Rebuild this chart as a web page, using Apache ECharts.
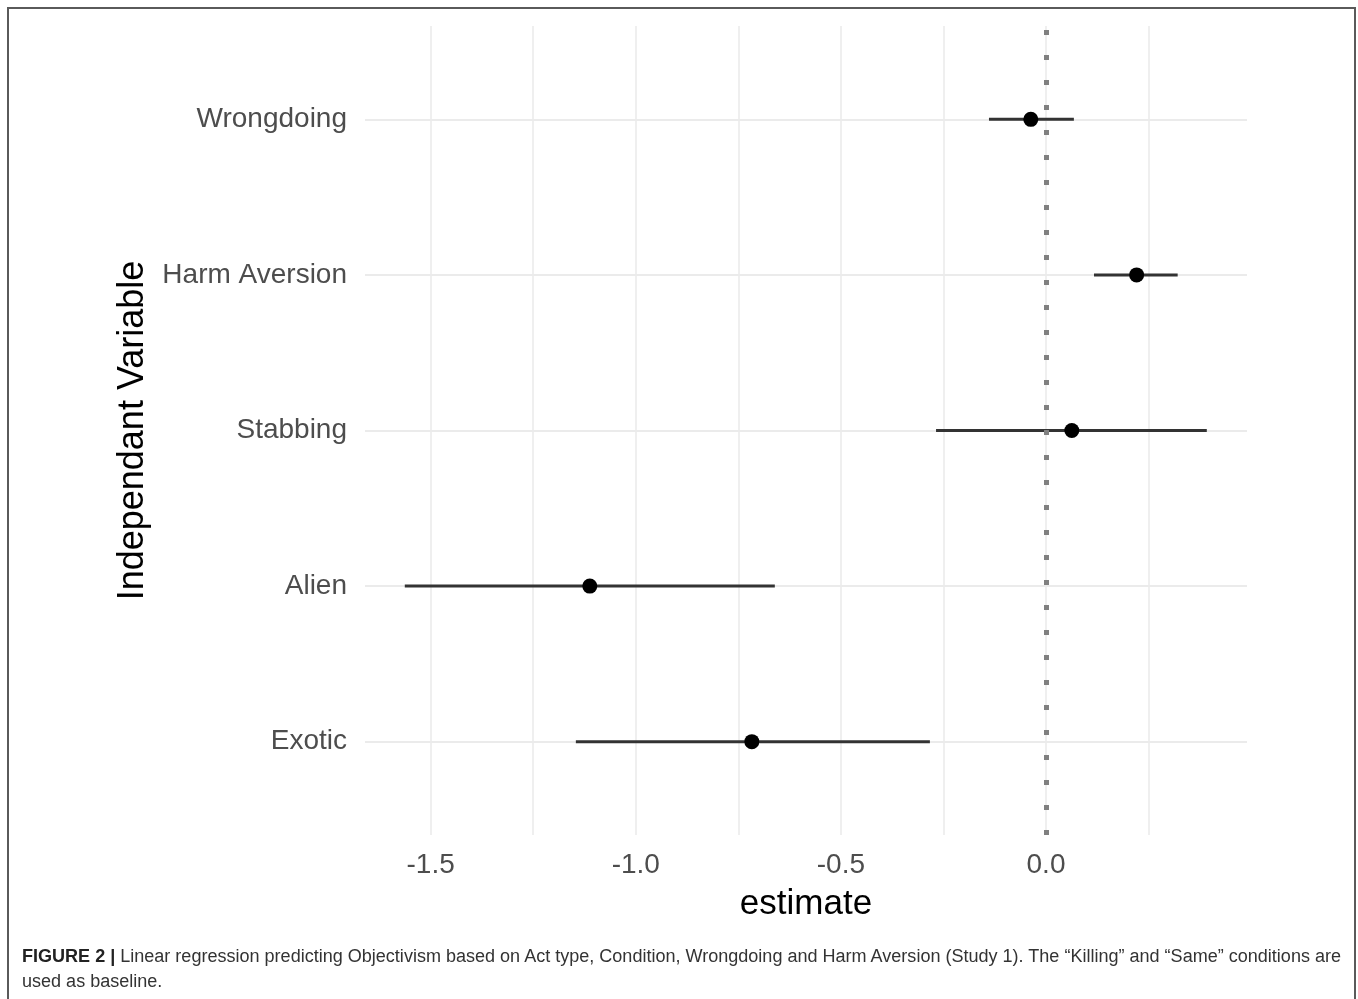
<!DOCTYPE html>
<html>
<head>
<meta charset="utf-8">
<script src="https://cdn.jsdelivr.net/npm/echarts@6/dist/echarts.min.js"></script>
<style>
  html, body { margin: 0; padding: 0; background: #fff; }
  body { width: 1358px; height: 999px; position: relative; overflow: hidden; font-family: "Liberation Sans", Arial, sans-serif; }
  #frame { position: absolute; left: 7px; top: 7px; width: 1345px; height: 1100px; border: 2px solid #5a5a5a; box-sizing: content-box; }
  #chart { position: absolute; left: 0; top: 0; width: 1358px; height: 999px; }
  #cap { position: absolute; left: 22px; top: 944px; transform-origin: 0 0; color: #333; font-size: 18px; line-height: 25px; white-space: nowrap; }
  #cap b { color: #222; }
  #l1, #l2 { display: block; }
  #l1 span { display: inline-block; }
</style>
</head>
<body>
<div id="frame"></div>
<div id="chart"></div>
<div id="cap"><div id="l1"><span id="l1s"><b>FIGURE 2 |</b> Linear regression predicting Objectivism based on Act type, Condition, Wrongdoing and Harm Aversion (Study 1). The “Killing” and “Same” conditions are</span></div><div id="l2">used as baseline.</div></div>
<script>
// Data (bottom to top)
const categories = ['Exotic', 'Alien', 'Stabbing', 'Harm Aversion', 'Wrongdoing'];
const estimates = [-0.717, -1.112, 0.063, 0.221, -0.037];
const lowerCI = [-1.146, -1.563, -0.268, 0.117, -0.139];
const upperCI = [-0.283, -0.661, 0.392, 0.321, 0.068];
const xTickValues = [-1.5, -1.0, -0.5, 0.0];
const xGridValues = [-1.5, -1.25, -1.0, -0.75, -0.5, -0.25, 0.0, 0.25];
const yPositions = [1, 2, 3, 4, 5];

const segData = categories.map((c, i) => [lowerCI[i], upperCI[i], yPositions[i]]);
const pointData = categories.map((c, i) => [estimates[i], yPositions[i]]);

const chart = echarts.init(document.getElementById('chart'), null, { renderer: 'canvas' });
const fontFam = '"Liberation Sans", Arial, sans-serif';
chart.setOption({
  animation: false,
  backgroundColor: 'transparent',
  grid: { left: 365, right: 111, top: 26, bottom: 164, containLabel: false },
  xAxis: {
    type: 'value',
    min: -1.66,
    max: 0.49,
    name: 'estimate',
    nameLocation: 'middle',
    nameGap: 52,
    nameTextStyle: { fontSize: 35, color: '#000', fontFamily: fontFam },
    axisLine: { show: false },
    axisTick: { show: false, customValues: xGridValues },
    axisLabel: {
      customValues: xTickValues,
      fontSize: 28, color: '#4d4d4d', fontFamily: fontFam, margin: 16,
      formatter: v => Number(v).toFixed(1)
    },
    splitLine: { show: true, lineStyle: { color: '#ebebeb', width: 1.6 } }
  },
  yAxis: {
    type: 'value',
    min: 0.4,
    max: 5.6,
    name: 'Independant Variable',
    nameLocation: 'middle',
    nameGap: 212,
    nameTextStyle: { fontSize: 36, color: '#000', fontFamily: fontFam },
    axisLine: { show: false },
    axisTick: { show: false, customValues: yPositions },
    axisLabel: {
      customValues: yPositions,
      fontSize: 28, color: '#4d4d4d', fontFamily: fontFam, margin: 18,
      formatter: v => categories[Math.round(v) - 1] || ''
    },
    splitLine: { show: true, lineStyle: { color: '#ebebeb', width: 2.2 } }
  },
  series: [
    {
      type: 'custom',
      z: 2,
      data: segData,
      encode: { x: [0, 1], y: 2 },
      renderItem: function (params, api) {
        const a = api.coord([api.value(0), api.value(2)]);
        const b = api.coord([api.value(1), api.value(2)]);
        return {
          type: 'line',
          shape: { x1: a[0], y1: a[1], x2: b[0], y2: b[1] },
          style: { stroke: '#333333', lineWidth: 3 }
        };
      }
    },
    {
      type: 'line',
      z: 3,
      data: [],
      markLine: {
        silent: true,
        symbol: ['none', 'none'],
        label: { show: false },
        lineStyle: { color: '#808080', width: 5, type: [5, 20] },
        data: [{ xAxis: 0 }]
      }
    },
    {
      type: 'scatter',
      z: 4,
      data: pointData,
      symbol: 'circle',
      symbolSize: 15,
      itemStyle: { color: '#000', opacity: 1 }
    }
  ]
});

// Fit caption first line to its width in the reference
const l1 = document.getElementById('l1s');
const w = l1.getBoundingClientRect().width;
const target = 1319;
document.getElementById('cap').style.transform = 'scaleX(' + (target / w) + ')';
</script>
</body>
</html>
